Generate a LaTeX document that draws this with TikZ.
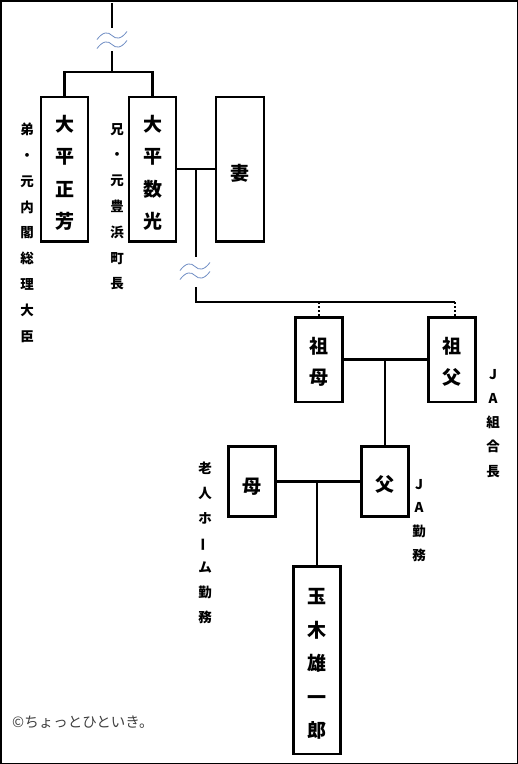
\documentclass[tikz,border=0pt]{standalone}
\usepackage{fontspec}
\usepackage{graphicx}
\newfontfamily\jp{Noto Sans CJK JP}
\definecolor{wavecol}{RGB}{110,140,195}
\begin{document}
\begin{tikzpicture}[x=1pt,y=-1pt,
  person/.style={draw, line width=2.5pt, minimum width=47pt, inner sep=0pt},
  ptext/.style={inner sep=0pt, yshift=-4pt, align=center, font=\jp\bfseries\fontsize{19}{32.5}\selectfont},
  conn/.style={line width=2.5pt},
  dotline/.style={line width=2.5pt, dash pattern=on 2pt off 2pt},
  wave/.style={draw=wavecol, line width=0.8pt},
  vlabel/.style={anchor=north, inner sep=0pt, align=center},
  wavepic/.pic={\foreach \dy in {-4.5,4.5}{\draw[wave] (-15,4+\dy) .. controls (-9,-4+\dy) and (-4,-4+\dy) .. (0,0+\dy) .. controls (4,4+\dy) and (9,4+\dy) .. (15,-4+\dy);}}
]
\useasboundingbox (0,0) rectangle (518,764);
\draw[line width=1.5pt] (0.75,0.75) rectangle (517.25,763.25);

% persons
\node[person, minimum height=144.5pt, label={[ptext]center:{大\\平\\正\\芳}}] (masayoshi) at (64.5,169) {};
\node[person, minimum height=144.5pt, label={[ptext]center:{大\\平\\数\\光}}] (kazumitsu) at (152.5,169) {};
\node[person, minimum height=144.5pt, minimum width=48pt, label={[ptext]center:{妻}}] (tsuma) at (240,169) {};
\node[person, minimum height=84.5pt, label={[ptext, yshift=2pt, font=\jp\bfseries\fontsize{19}{31}\selectfont]center:{祖\\母}}] (sobo) at (319,359.5) {};
\node[person, minimum height=84.5pt, label={[ptext, yshift=2pt, font=\jp\bfseries\fontsize{19}{31}\selectfont]center:{祖\\父}}] (sofu) at (452,359.5) {};
\node[person, minimum height=70pt, label={[ptext, yshift=1pt]center:{父}}] (chichi) at (385,481.5) {};
\node[person, minimum height=70pt, label={[ptext, yshift=-1pt]center:{母}}] (haha) at (252,481.5) {};
\node[person, minimum height=187.5pt, label={[ptext, font=\jp\bfseries\fontsize{19}{33.5}\selectfont]center:{玉\\木\\雄\\一\\郎}}] (yuichiro) at (317,660) {};

% labels
\node[vlabel, font=\jp\bfseries\fontsize{13.5}{25.8}\selectfont] (l1) at (27,123) {弟\\・\\元\\内\\閣\\総\\理\\大\\臣};
\node[vlabel, font=\jp\bfseries\fontsize{13.5}{25.8}\selectfont] (l2) at (117,123) {兄\\・\\元\\豊\\浜\\町\\長};
\node[vlabel, font=\jp\bfseries\fontsize{13.5}{24.2}\selectfont] (l3) at (493,369) {J\\A\\組\\合\\長};
\node[vlabel, font=\jp\bfseries\fontsize{13.5}{23.7}\selectfont] (l4) at (419,479) {J\\A\\勤\\務};
\node[vlabel, font=\jp\bfseries\fontsize{13.5}{24.8}\selectfont] (l5) at (205,462) {老\\人\\ホ\\\rotatebox[origin=c]{90}{ー}\\ム\\勤\\務};

\node[anchor=west, inner sep=0pt, font=\jp\fontsize{14.5}{14.5}\selectfont, text=black!75] (copy) at (12,722) {©ちょっとひといき。};

% connectors
\coordinate (top) at (112,3);
\coordinate (w1t) at (112,28);
\coordinate (w1b) at (112,51);
\coordinate (j1) at (112,72);
\draw[conn] (top) -- (w1t);
\draw[conn] (w1b) -- (j1);
\draw[conn] (masayoshi.north) |- (j1) -| (kazumitsu.north);
\pic at (112,40) {wavepic};

\draw[conn] (kazumitsu.east) -- (tsuma.west);
\coordinate (j2) at (196,169);
\coordinate (w2t) at (196,257);
\coordinate (w2b) at (196,287);
\coordinate (h2) at (455,302);
\draw[conn] (j2) -- (w2t);
\draw[conn] (w2b) |- (h2);
\pic at (195,271) {wavepic};
\draw[dotline] (h2) -- (h2 |- sofu.north);
\draw[dotline] (sobo.north |- h2) -- (sobo.north);

\draw[conn] (sobo.east) -- (sofu.west);
\draw[conn] (chichi.north |- sobo.east) -- (chichi.north);

\draw[conn] (haha.east) -- (chichi.west);
\draw[conn] (yuichiro.north |- haha.east) -- (yuichiro.north);
\end{tikzpicture}
\end{document}
